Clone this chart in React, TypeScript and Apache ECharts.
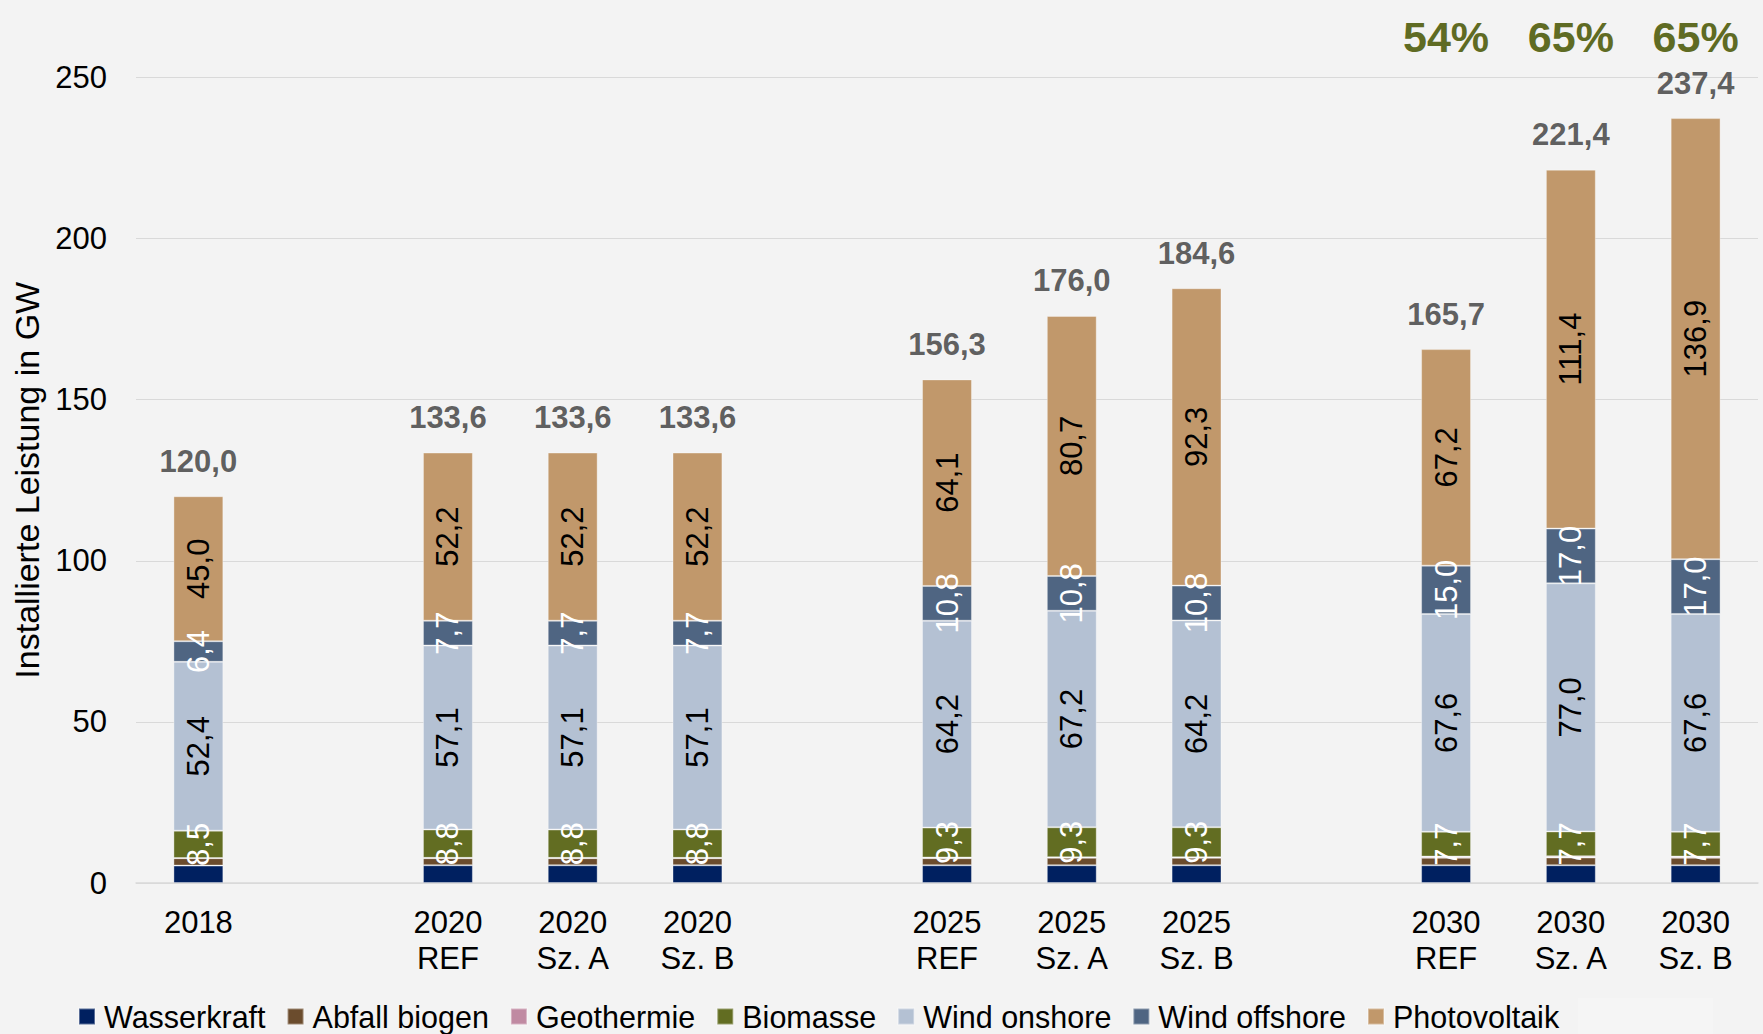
import React, { useEffect, useRef } from "react";
import * as echarts from "echarts";

const categories = [
  "2018", "",
  "2020\nREF", "2020\nSz. A", "2020\nSz. B", "",
  "2025\nREF", "2025\nSz. A", "2025\nSz. B", "",
  "2030\nREF", "2030\nSz. A", "2030\nSz. B",
];
const wasserkraft = [5.4, null, 5.5, 5.5, 5.5, null, 5.5, 5.5, 5.5, null, 5.5, 5.5, 5.5];
const abfallBiogen = [2.3, null, 2.2, 2.2, 2.2, null, 2.2, 2.3, 2.3, null, 2.3, 2.4, 2.3];
const geothermie = [0.04, null, 0.1, 0.1, 0.1, null, 0.2, 0.2, 0.2, null, 0.4, 0.4, 0.4];
const biomasse = [8.5, null, 8.8, 8.8, 8.8, null, 9.3, 9.3, 9.3, null, 7.7, 7.7, 7.7];
const windOnshore = [52.4, null, 57.1, 57.1, 57.1, null, 64.2, 67.2, 64.2, null, 67.6, 77.0, 67.6];
const windOffshore = [6.4, null, 7.7, 7.7, 7.7, null, 10.8, 10.8, 10.8, null, 15.0, 17.0, 17.0];
const photovoltaik = [45.0, null, 52.2, 52.2, 52.2, null, 64.1, 80.7, 92.3, null, 67.2, 111.4, 136.9];
const totals = [120.0, null, 133.6, 133.6, 133.6, null, 156.3, 176.0, 184.6, null, 165.7, 221.4, 237.4];
const shares = [null, null, null, null, null, null, null, null, null, null, "54%", "65%", "65%"];
const yTicks = { min: 0, max: 250, interval: 50 };

const FONT = "'Liberation Sans', Arial, sans-serif";
const fmt = (v: number) => v.toFixed(1).replace(".", ",");
const toData = (arr: (number | null)[]) => arr.map((v) => (v == null ? "-" : v));

const seriesDefs = [
  { name: "Wasserkraft", data: wasserkraft, color: "#002060", label: null },
  { name: "Abfall biogen", data: abfallBiogen, color: "#6b4c2d", label: null },
  { name: "Geothermie", data: geothermie, color: "#c08aa2", label: null },
  { name: "Biomasse", data: biomasse, color: "#626d22", label: "#ffffff" },
  { name: "Wind onshore", data: windOnshore, color: "#b4c1d3", label: "#000000" },
  { name: "Wind offshore", data: windOffshore, color: "#4f6582", label: "#ffffff" },
  { name: "Photovoltaik", data: photovoltaik, color: "#c1986b", label: "#000000" },
];

export default function App() {
  const ref = useRef<HTMLDivElement>(null);
  useEffect(() => {
    if (!ref.current) return;
    const chart = echarts.init(ref.current, null, { renderer: "svg" });
    const series: any[] = seriesDefs.map((s) => ({
      name: s.name,
      type: "bar",
      stack: "total",
      barWidth: "40%",
      data: toData(s.data),
      itemStyle: { color: s.color, borderColor: "rgba(255,255,255,0.35)", borderWidth: 1 },
      label: s.label
        ? {
            show: true,
            position: "inside",
            rotate: 90,
            color: s.label,
            fontSize: 31,
            fontFamily: FONT,
            formatter: (p: any) => fmt(p.value),
          }
        : { show: false },
      emphasis: { disabled: true },
    }));
    series.push({
      name: "Summe",
      type: "scatter",
      data: toData(totals),
      symbol: "circle",
      symbolSize: 1,
      itemStyle: { color: "transparent" },
      silent: true,
      z: 10,
      label: {
        show: true,
        position: "top",
        distance: 19,
        fontSize: 31,
        fontWeight: "bold",
        color: "#383838",
        fontFamily: FONT,
        formatter: (p: any) => fmt(p.value),
      },
    });
    chart.setOption({
      animation: false,
      backgroundColor: "#f3f3f3",
      textStyle: { fontFamily: FONT },
      grid: { left: 136, right: 5, top: 77.5, bottom: 151, containLabel: false },
      legend: {
        data: seriesDefs.map((s) => s.name),
        left: 78,
        top: 1001,
        padding: 0,
        itemWidth: 16,
        itemHeight: 16,
        itemGap: 21,
        icon: "rect",
        selectedMode: false,
        textStyle: {
          fontSize: 30.5,
          lineHeight: 30,
          color: "#000",
          fontFamily: FONT,
          padding: [0, 0, 0, 4],
        },
      },
      xAxis: {
        type: "category",
        data: categories,
        axisTick: { show: false },
        axisLine: { lineStyle: { color: "#d9d9d9", width: 1.5 } },
        axisLabel: {
          interval: 0,
          fontSize: 31,
          lineHeight: 36,
          color: "#000",
          margin: 21,
          fontFamily: FONT,
        },
      },
      yAxis: {
        type: "value",
        min: yTicks.min,
        max: yTicks.max,
        interval: yTicks.interval,
        name: "Installierte Leistung in GW",
        nameLocation: "middle",
        nameGap: 90,
        nameTextStyle: { fontSize: 34, color: "#000", fontFamily: FONT },
        axisLine: { show: false },
        axisTick: { show: false },
        axisLabel: { fontSize: 31, color: "#000", margin: 29, fontFamily: FONT },
        splitLine: { lineStyle: { color: "#d9d9d9", width: 1.2 } },
      },
      series,
    });
    const graphics: any[] = [
      { type: "rect", shape: { x: 1578, y: 998, width: 135, height: 36 }, style: { fill: "#f5f5f5" }, z: -1 },
    ];
    shares.forEach((s, i) => {
      if (!s) return;
      const x = chart.convertToPixel({ xAxisIndex: 0 }, i) as number;
      graphics.push({
        type: "text",
        x,
        y: 37,
        style: {
          text: s,
          fontSize: 43,
          fontWeight: "bold",
          fill: "#5f6b23",
          fontFamily: FONT,
          textAlign: "center",
          textVerticalAlign: "middle",
        },
      });
    });
    chart.setOption({ graphic: graphics });
    return () => chart.dispose();
  }, []);
  return (
    <div
      ref={ref}
      style={{ position: "absolute", left: 0, top: 0, width: 1763, height: 1034 }}
    />
  );
}
